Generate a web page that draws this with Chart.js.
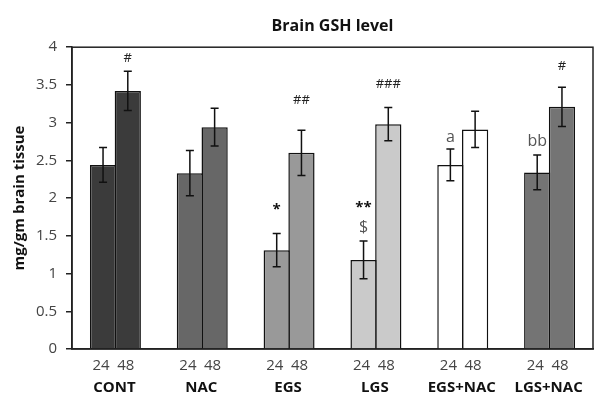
<!DOCTYPE html>
<html lang="en">
<head>
    <meta charset="UTF-8">
    <title>Brain GSH level</title>
    <style>
        body {
            margin: 0;
            background: #ffffff;
        }
        #gshChart {
            display: block;
        }
    </style>
</head>
<body>
    <canvas id="gshChart" width="595" height="396"></canvas>

    <script src="https://cdn.jsdelivr.net/npm/chart.js"></script>
    <script>
        // datos
        const groups = ['CONT', 'NAC', 'EGS', 'LGS', 'EGS+NAC', 'LGS+NAC'];
        const times = ['24', '48'];
        const mean24 = [2.44, 2.33, 1.31, 1.18, 2.44, 2.34];
        const mean48 = [3.42, 2.94, 2.60, 2.98, 2.91, 3.21];
        const err24 = [0.23, 0.30, 0.22, 0.25, 0.21, 0.23];
        const err48 = [0.26, 0.25, 0.30, 0.22, 0.24, 0.26];
        const yTicks = [0, 0.5, 1, 1.5, 2, 2.5, 3, 3.5, 4];

        // marcas de significancia y su nivel (en unidades del eje y)
        const marks24 = ['', '', '*', '**', 'a', 'bb'];
        const markLevel24 = [null, null, 1.85, 1.87, 2.81, 2.75];
        const marks24b = ['', '', '', '$', '', ''];
        const markLevel24b = [null, null, null, 1.61, null, null];
        const marks48 = ['#', '', '##', '###', '', '#'];
        const markLevel48 = [3.85, null, 3.30, 3.51, null, 3.75];

        const groupColors = ['#3b3b3b', '#676767', '#999999', '#cacaca', '#ffffff', '#747474'];
        const FONT = "'Open Sans', 'DejaVu Sans', sans-serif";

        // caja, barras de error, marcas y etiquetas del eje x
        const extras = {
            id: 'extras',
            beforeDatasetsDraw(chart) {
                const a = chart.chartArea;
                const ctx = chart.ctx;
                ctx.save();
                ctx.strokeStyle = '#222';
                ctx.lineWidth = 1.5;
                ctx.strokeRect(a.left, a.top, a.right - a.left, a.bottom - a.top);
                ctx.restore();
            },
            afterDatasetsDraw(chart) {
                const ctx = chart.ctx;
                const y = chart.scales.y;
                const x = chart.scales.x;
                const errs = [err24, err48];
                const means = [mean24, mean48];
                ctx.save();
                ctx.strokeStyle = '#111';
                ctx.lineWidth = 1.5;
                for (let d = 0; d < 2; d++) {
                    const meta = chart.getDatasetMeta(d);
                    meta.data.forEach((bar, i) => {
                        const top = y.getPixelForValue(means[d][i] + errs[d][i]);
                        const bot = y.getPixelForValue(means[d][i] - errs[d][i]);
                        ctx.beginPath();
                        ctx.moveTo(bar.x, top); ctx.lineTo(bar.x, bot);
                        ctx.moveTo(bar.x - 4, top); ctx.lineTo(bar.x + 4, top);
                        ctx.moveTo(bar.x - 4, bot); ctx.lineTo(bar.x + 4, bot);
                        ctx.stroke();
                    });
                }

                ctx.textAlign = 'center';
                ctx.textBaseline = 'middle';
                const drawMark = (txt, px, level) => {
                    if (!txt || level === null) return;
                    if (txt.indexOf('*') >= 0) {
                        ctx.font = 'bold 15px ' + FONT;
                        ctx.fillStyle = '#111';
                    } else if (txt.indexOf('#') >= 0) {
                        ctx.font = '13px ' + FONT;
                        ctx.fillStyle = '#222';
                    } else {
                        ctx.font = '16px ' + FONT;
                        ctx.fillStyle = '#555';
                    }
                    ctx.fillText(txt, px, y.getPixelForValue(level));
                };
                const m0 = chart.getDatasetMeta(0).data;
                const m1 = chart.getDatasetMeta(1).data;
                groups.forEach((g, i) => {
                    drawMark(marks24[i], m0[i].x, markLevel24[i]);
                    drawMark(marks24b[i], m0[i].x, markLevel24b[i]);
                    drawMark(marks48[i], m1[i].x, markLevel48[i]);
                });

                // etiquetas de tiempo bajo cada barra
                ctx.font = '15px ' + FONT;
                ctx.fillStyle = '#444';
                const yLab = chart.chartArea.bottom + 17;
                groups.forEach((g, i) => {
                    ctx.fillText(times[0], m0[i].x - 2, yLab);
                    ctx.fillText(times[1], m1[i].x - 2, yLab);
                });

                // nombres de grupo
                ctx.font = 'bold 15px ' + FONT;
                ctx.fillStyle = '#111';
                groups.forEach((g, i) => {
                    ctx.fillText(g, x.getPixelForValue(i) - 1, chart.chartArea.bottom + 39);
                });
                ctx.restore();
            }
        };

        const ctx = document.getElementById('gshChart').getContext('2d');
        const gshChart = new Chart(ctx, {
            type: 'bar',
            data: {
                labels: groups,
                datasets: [{
                    label: times[0],
                    data: mean24,
                    backgroundColor: groupColors,
                    borderColor: '#111',
                    borderWidth: { top: 1.5, left: 1.5, right: 1.5, bottom: 0 }
                }, {
                    label: times[1],
                    data: mean48,
                    backgroundColor: groupColors,
                    borderColor: '#111',
                    borderWidth: { top: 1.5, left: 1.5, right: 1.5, bottom: 0 }
                }]
            },
            options: {
                responsive: false,
                animation: false,
                devicePixelRatio: 1,
                categoryPercentage: 0.57,
                barPercentage: 1.06,
                layout: { padding: { right: 2, left: 0, bottom: 0, top: 0 } },
                plugins: {
                    legend: { display: false },
                    tooltip: { enabled: false },
                    title: {
                        display: true,
                        text: 'Brain GSH level',
                        fullSize: false,
                        color: '#111',
                        font: { family: FONT, size: 16, weight: 'bold' },
                        padding: { top: 17, bottom: 11 }
                    }
                },
                scales: {
                    x: {
                        grid: { display: false },
                        border: { display: true, color: '#222', width: 1.5 },
                        ticks: { display: false },
                        afterFit(s) { s.height = 47; }
                    },
                    y: {
                        min: 0,
                        max: 4,
                        afterBuildTicks(s) { s.ticks = yTicks.map(v => ({ value: v })); },
                        ticks: {
                            color: '#444',
                            font: { family: FONT, size: 15 },
                            padding: 9,
                            callback: v => String(v)
                        },
                        grid: {
                            drawOnChartArea: false,
                            drawTicks: true,
                            tickLength: 6,
                            color: '#222',
                            lineWidth: 1.5
                        },
                        border: { display: true, color: '#222', width: 1.5 },
                        title: {
                            display: true,
                            text: 'mg/gm brain tissue',
                            color: '#111',
                            font: { family: FONT, size: 15, weight: 'bold' },
                            padding: { top: 11, bottom: 0 }
                        },
                        afterFit(s) { s.width = 72; }
                    }
                }
            },
            plugins: [extras]
        });
    </script>
</body>
</html>
